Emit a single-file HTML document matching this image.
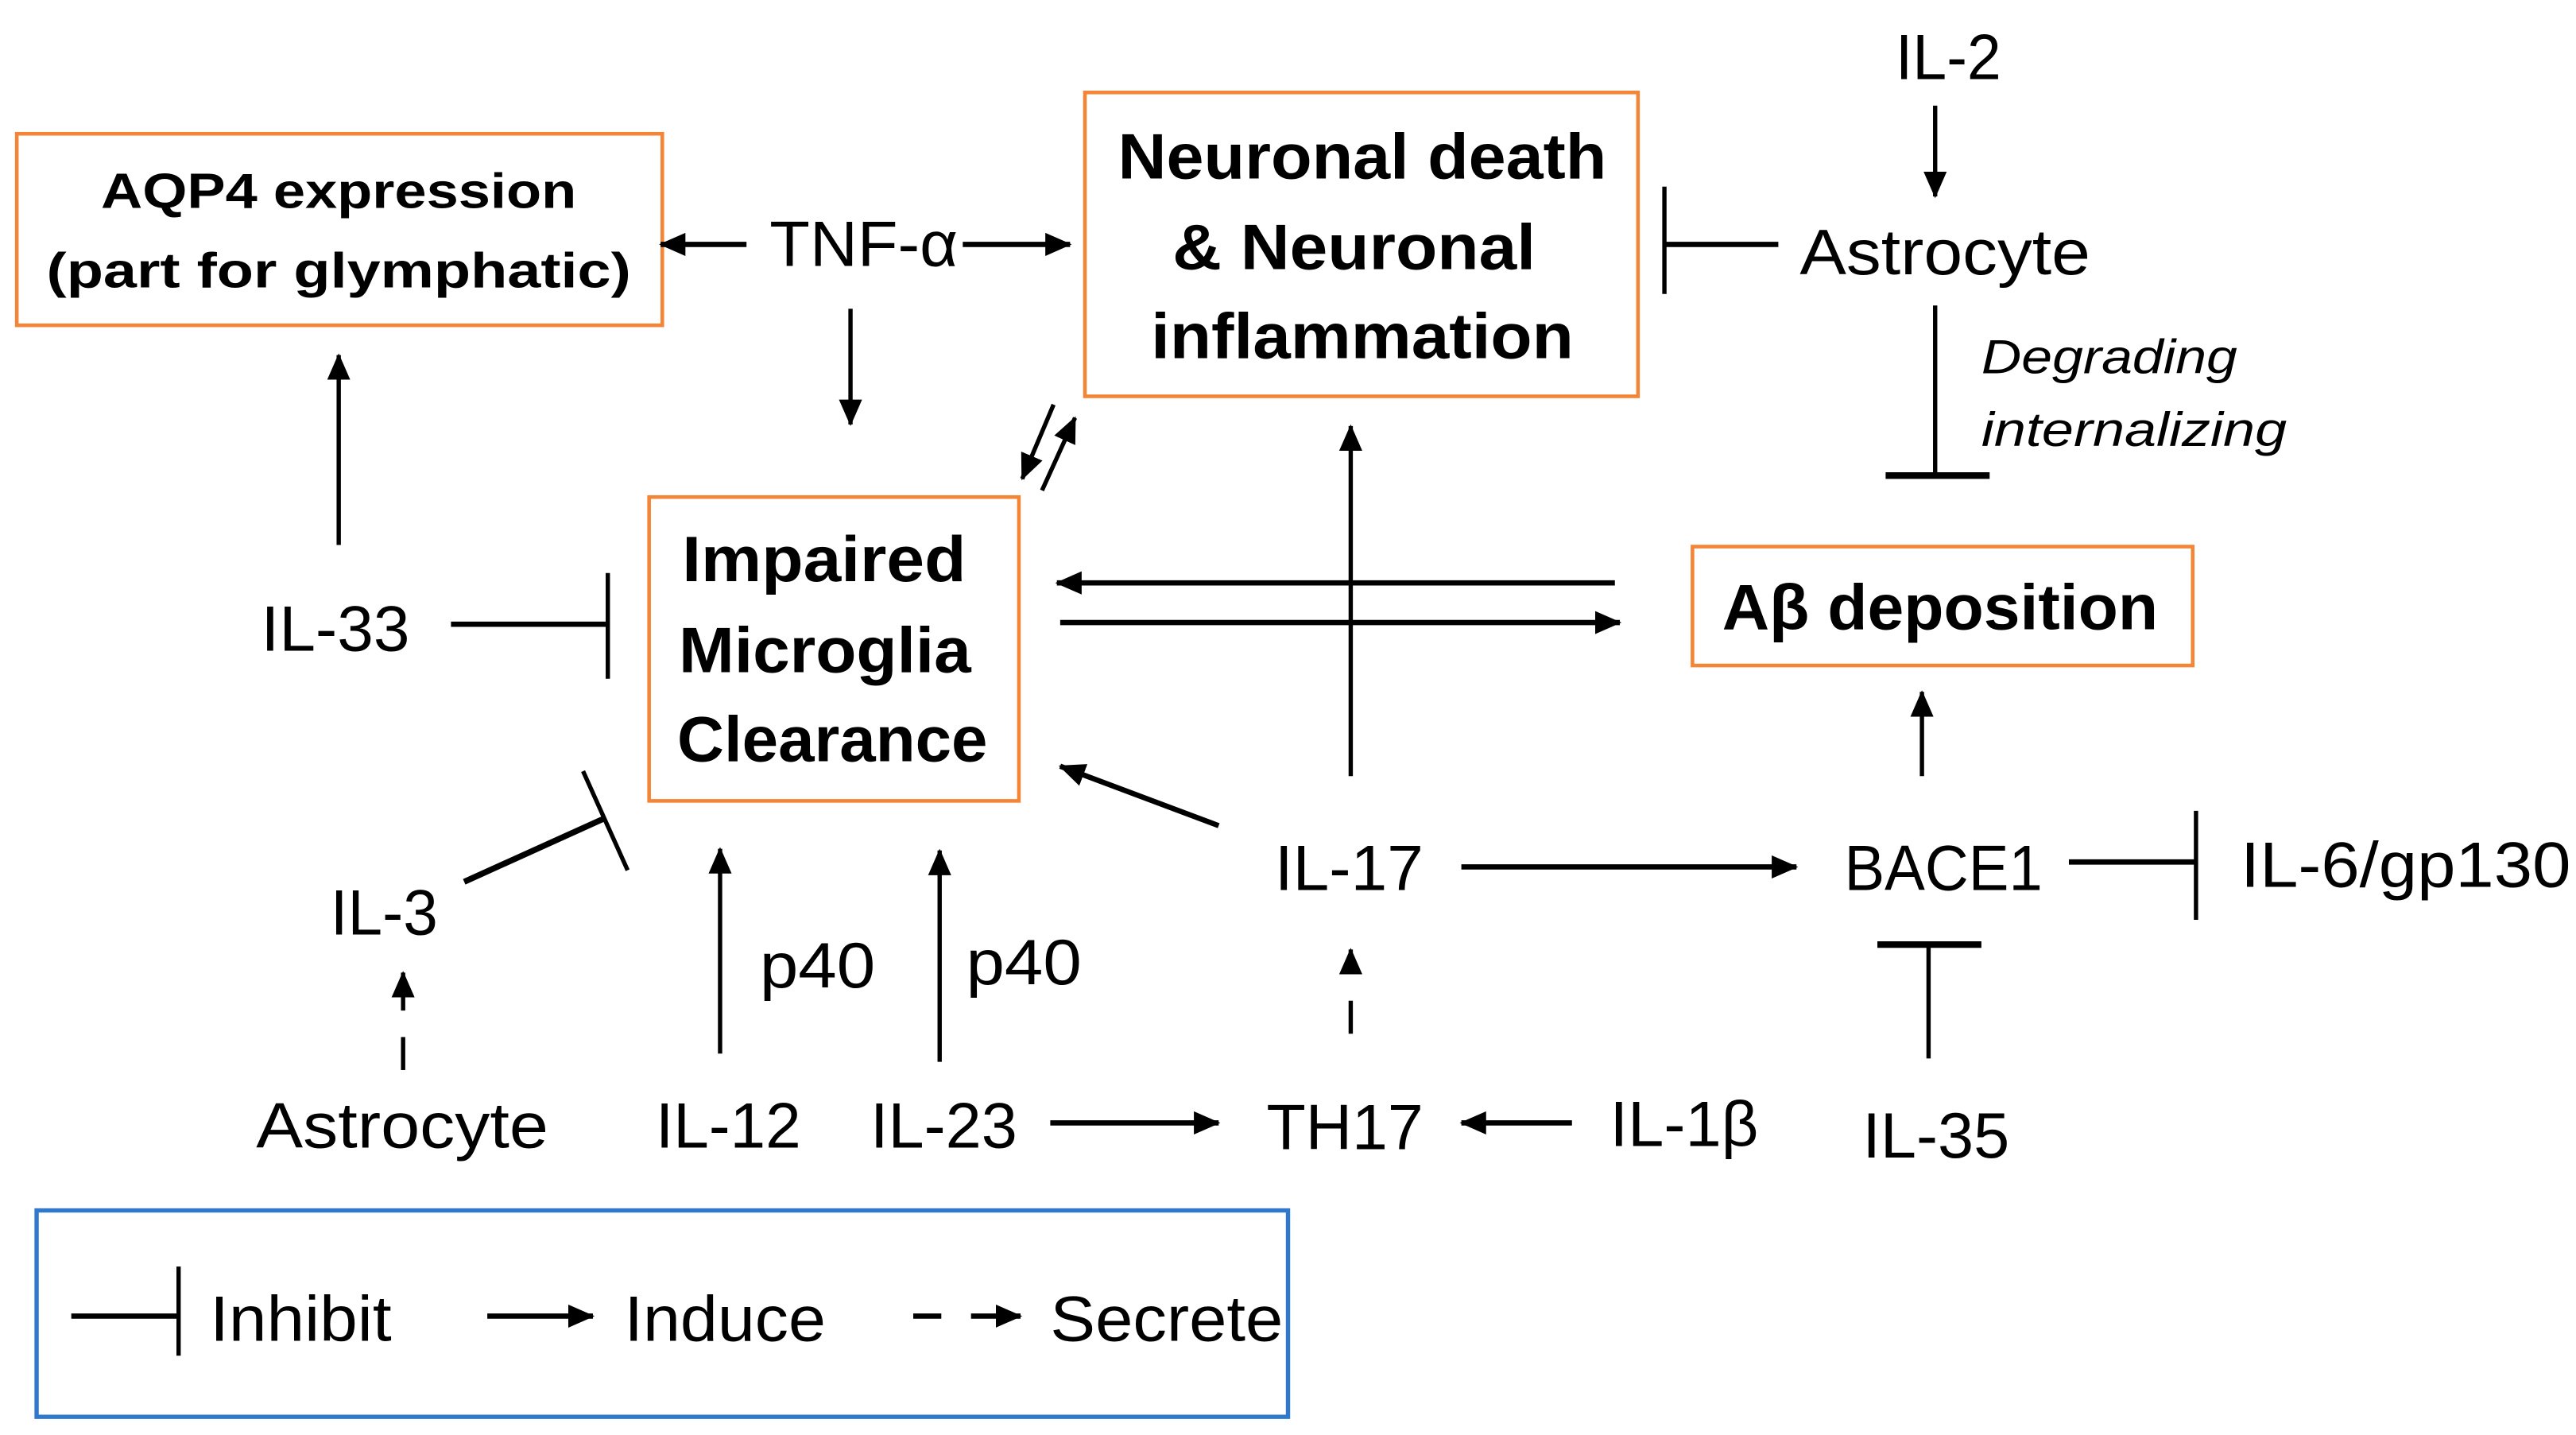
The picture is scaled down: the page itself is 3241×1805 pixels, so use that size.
<!DOCTYPE html>
<html><head><meta charset="utf-8"><style>
html,body{margin:0;padding:0;background:#fff;}
svg{display:block;}
text{font-family:"Liberation Sans",sans-serif;fill:#000;}
.b{font-weight:bold;}
</style></head><body>
<svg width="3241" height="1805" viewBox="0 0 1560 869" xmlns="http://www.w3.org/2000/svg">
<defs>
<marker id="a" markerUnits="userSpaceOnUse" markerWidth="16" markerHeight="14" refX="15" refY="7" orient="auto">
<path d="M0,0 L16,7 L0,14 Z" fill="#000"/>
</marker>
</defs>
<g fill="none" stroke="#F58536" stroke-width="2.2">
<rect x="10" y="81" width="391" height="116"/>
<rect x="657" y="56" width="335" height="184"/>
<rect x="393" y="301" width="224" height="184"/>
<rect x="1025" y="331" width="303" height="72"/>
</g>
<rect x="22" y="733" width="758" height="125" fill="none" stroke="#2F78CC" stroke-width="2.6"/>

<g stroke="#000" stroke-width="3.2" fill="none">
<!-- TNF arrows -->
<line x1="452" y1="148" x2="400" y2="148" marker-end="url(#a)"/>
<line x1="583" y1="148" x2="648" y2="148" marker-end="url(#a)"/>
<line x1="515" y1="187" x2="515" y2="257" marker-end="url(#a)" stroke-width="2.6"/>
<!-- IL-2 -->
<line x1="1172" y1="64" x2="1172" y2="119" marker-end="url(#a)" stroke-width="2.6"/>
<!-- Astrocyte inhibit neuronal -->
<line x1="1008" y1="148" x2="1077" y2="148"/>
<line x1="1008" y1="113" x2="1008" y2="178" stroke-width="2.6"/>
<!-- Astrocyte inhibit Abeta -->
<line x1="1172" y1="185" x2="1172" y2="288" stroke-width="2.6"/>
<line x1="1142" y1="288" x2="1205" y2="288" stroke-width="4"/>
<!-- double arrows -->
<line x1="638" y1="245" x2="619" y2="290" marker-end="url(#a)" stroke-width="2.6"/>
<line x1="631" y1="297" x2="651" y2="253" marker-end="url(#a)" stroke-width="2.6"/>
<!-- horizontal arrows Abeta/microglia -->
<line x1="978" y1="353" x2="640" y2="353" marker-end="url(#a)"/>
<line x1="642" y1="377" x2="981" y2="377" marker-end="url(#a)"/>
<!-- IL-17 up -->
<line x1="818" y1="470" x2="818" y2="258" marker-end="url(#a)" stroke-width="2.6"/>
<!-- IL-33 -->
<line x1="273" y1="378" x2="368" y2="378"/>
<line x1="368" y1="347" x2="368" y2="411" stroke-width="2.6"/>
<line x1="205" y1="330" x2="205" y2="215" marker-end="url(#a)" stroke-width="2.6"/>
<!-- IL-17 to microglia -->
<line x1="738" y1="500" x2="642" y2="464" marker-end="url(#a)"/>
<!-- IL-17 to BACE1 -->
<line x1="885" y1="525" x2="1088" y2="525" marker-end="url(#a)"/>
<!-- BACE1 up -->
<line x1="1164" y1="470" x2="1164" y2="419" marker-end="url(#a)" stroke-width="2.6"/>
<!-- BACE1 inhibit IL-6 -->
<line x1="1253" y1="522" x2="1330" y2="522"/>
<line x1="1330" y1="491" x2="1330" y2="557" stroke-width="2.6"/>
<!-- IL-35 inhibit BACE1 -->
<line x1="1168" y1="641" x2="1168" y2="572" stroke-width="2.6"/>
<line x1="1137" y1="572" x2="1200" y2="572" stroke-width="4"/>
<!-- IL-3 inhibit -->
<line x1="281" y1="534" x2="365" y2="496" stroke-width="3.6"/>
<line x1="353" y1="467" x2="380" y2="527" stroke-width="2.6"/>
<!-- astrocyte secrete IL-3 -->
<line x1="244" y1="628" x2="244" y2="648" stroke-width="2.6"/>
<line x1="244" y1="612" x2="244" y2="589" marker-end="url(#a)" stroke-width="2.6"/>
<!-- IL-12 / IL-23 -->
<line x1="436" y1="638" x2="436" y2="514" marker-end="url(#a)" stroke-width="2.6"/>
<line x1="569" y1="643" x2="569" y2="515" marker-end="url(#a)" stroke-width="2.6"/>
<!-- IL-23 to TH17 -->
<line x1="636" y1="680" x2="738" y2="680" marker-end="url(#a)"/>
<!-- TH17 secrete IL-17 -->
<line x1="818" y1="606" x2="818" y2="626" stroke-width="2.6"/>
<line x1="818" y1="590" x2="818" y2="575" marker-end="url(#a)" stroke-width="2.6"/>
<!-- IL-1b to TH17 -->
<line x1="952" y1="680" x2="885" y2="680" marker-end="url(#a)"/>
<!-- legend -->
<line x1="43" y1="797" x2="108" y2="797"/>
<line x1="108" y1="767" x2="108" y2="821" stroke-width="2.6"/>
<line x1="295" y1="797" x2="359" y2="797" marker-end="url(#a)"/>
<line x1="553" y1="797" x2="570" y2="797"/>
<line x1="588" y1="797" x2="618" y2="797" marker-end="url(#a)"/>
</g>

<g class="b" font-size="30" text-anchor="start">
<text x="61" y="126" textLength="288" lengthAdjust="spacingAndGlyphs">AQP4 expression</text>
<text x="28" y="174" textLength="354" lengthAdjust="spacingAndGlyphs">(part for glymphatic)</text>
</g>
<g class="b" font-size="39">
<text x="677" y="108" textLength="296" lengthAdjust="spacingAndGlyphs">Neuronal death</text>
<text x="710" y="163" textLength="220" lengthAdjust="spacingAndGlyphs">&amp; Neuronal</text>
<text x="697" y="217" textLength="256" lengthAdjust="spacingAndGlyphs">inflammation</text>
<text x="413" y="352" textLength="172" lengthAdjust="spacingAndGlyphs">Impaired</text>
<text x="411" y="407" textLength="177" lengthAdjust="spacingAndGlyphs">Microglia</text>
<text x="410" y="461" textLength="188" lengthAdjust="spacingAndGlyphs">Clearance</text>
<text x="1043" y="381" textLength="264" lengthAdjust="spacingAndGlyphs">Aβ deposition</text>
</g>
<g font-size="39">
<text x="466" y="161" textLength="114" lengthAdjust="spacingAndGlyphs">TNF-α</text>
<text x="1148" y="48" textLength="64" lengthAdjust="spacingAndGlyphs">IL-2</text>
<text x="1090" y="166" textLength="176" lengthAdjust="spacingAndGlyphs">Astrocyte</text>
<text x="158" y="394" textLength="90" lengthAdjust="spacingAndGlyphs">IL-33</text>
<text x="772" y="539" textLength="90" lengthAdjust="spacingAndGlyphs">IL-17</text>
<text x="1117" y="539" textLength="120" lengthAdjust="spacingAndGlyphs">BACE1</text>
<text x="1357" y="537" textLength="200" lengthAdjust="spacingAndGlyphs">IL-6/gp130</text>
<text x="200" y="566" textLength="65" lengthAdjust="spacingAndGlyphs">IL-3</text>
<text x="460" y="598" textLength="70" lengthAdjust="spacingAndGlyphs">p40</text>
<text x="585" y="596" textLength="70" lengthAdjust="spacingAndGlyphs">p40</text>
<text x="155" y="695" textLength="177" lengthAdjust="spacingAndGlyphs">Astrocyte</text>
<text x="397" y="695" textLength="88" lengthAdjust="spacingAndGlyphs">IL-12</text>
<text x="527" y="695" textLength="89" lengthAdjust="spacingAndGlyphs">IL-23</text>
<text x="767" y="696" textLength="95" lengthAdjust="spacingAndGlyphs">TH17</text>
<text x="975" y="694" textLength="90" lengthAdjust="spacingAndGlyphs">IL-1β</text>
<text x="1128" y="701" textLength="89" lengthAdjust="spacingAndGlyphs">IL-35</text>
<text x="127" y="812" textLength="110" lengthAdjust="spacingAndGlyphs">Inhibit</text>
<text x="378" y="812" textLength="122" lengthAdjust="spacingAndGlyphs">Induce</text>
<text x="636" y="812" textLength="141" lengthAdjust="spacingAndGlyphs">Secrete</text>
</g>
<g font-size="29" font-style="italic">
<text x="1200" y="226" textLength="155" lengthAdjust="spacingAndGlyphs">Degrading</text>
<text x="1200" y="270" textLength="185" lengthAdjust="spacingAndGlyphs">internalizing</text>
</g>
</svg>
</body></html>
